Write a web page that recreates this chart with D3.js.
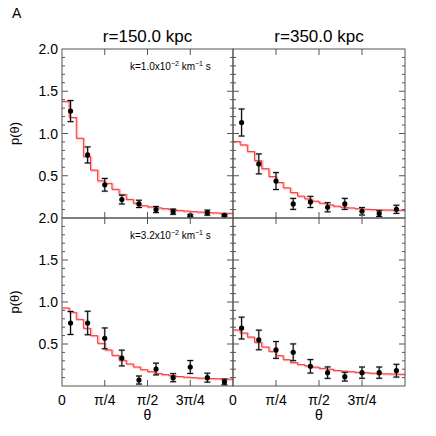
<!DOCTYPE html>
<html>
<head>
<meta charset="utf-8">
<script src="https://cdn.jsdelivr.net/npm/d3@7"></script>
<style>
  body { margin: 0; background: #fff; }
  svg { font-family: "Liberation Sans", Arial, sans-serif; }
</style>
</head>
<body>
<div id="chart"></div>
<script>
const PI = Math.PI;
const radiusTitles = ["r=150.0 kpc", "r=350.0 kpc"];
const kValues = ["1.0", "3.2"];
const xTicks = [0, PI / 4, PI / 2, 3 * PI / 4];
const xTickLabels = ["0", "\u03c0/4", "\u03c0/2", "3\u03c0/4"];
const yTicks = [0.5, 1.0, 1.5, 2.0];

// observed p(theta), 10 bins over [0, pi]
const obsR150K1 = [1.265, 0.746, 0.393, 0.218, 0.167, 0.10, 0.075, 0.028, 0.063, 0.032];
const errR150K1 = [0.125, 0.095, 0.075, 0.052, 0.043, 0.036, 0.031, 0.012, 0.03, 0.012];
const obsR350K1 = [1.13, 0.64, 0.437, 0.167, 0.19, 0.127, 0.167, 0.079, 0.052, 0.103];
const errR350K1 = [0.16, 0.118, 0.1, 0.065, 0.066, 0.054, 0.065, 0.044, 0.034, 0.048];
const obsR150K3 = [0.75, 0.75, 0.567, 0.333, 0.071, 0.202, 0.099, 0.226, 0.099, 0.048];
const errR150K3 = [0.137, 0.14, 0.124, 0.094, 0.048, 0.07, 0.048, 0.077, 0.053, 0.034];
const obsR350K3 = [0.69, 0.548, 0.429, 0.401, 0.234, 0.159, 0.111, 0.159, 0.159, 0.182];
const errR350K3 = [0.13, 0.117, 0.1, 0.1, 0.08, 0.068, 0.052, 0.067, 0.067, 0.076];

// model histograms, 24 bins over [0, pi]
const modR150K1 = [1.38, 1.19, 0.944, 0.726, 0.567, 0.44, 0.41, 0.34, 0.28, 0.22, 0.175, 0.145,
  0.13, 0.12, 0.11, 0.10, 0.09, 0.082, 0.075, 0.07, 0.065, 0.06, 0.058, 0.056];
const modR350K1 = [0.905, 0.865, 0.786, 0.679, 0.583, 0.49, 0.42, 0.357, 0.30, 0.258, 0.226, 0.199,
  0.175, 0.155, 0.139, 0.127, 0.119, 0.11, 0.104, 0.10, 0.097, 0.095, 0.093, 0.092];
const modR150K3 = [0.929, 0.877, 0.794, 0.687, 0.599, 0.508, 0.429, 0.365, 0.306, 0.262, 0.226, 0.194,
  0.17, 0.15, 0.135, 0.123, 0.113, 0.105, 0.099, 0.094, 0.09, 0.087, 0.085, 0.083];
const modR350K3 = [0.667, 0.631, 0.583, 0.52, 0.464, 0.413, 0.361, 0.313, 0.278, 0.255, 0.24, 0.225,
  0.21, 0.20, 0.185, 0.178, 0.17, 0.163, 0.158, 0.152, 0.148, 0.145, 0.142, 0.14];

const panels = [
  { col: 0, row: 0, obs: obsR150K1, err: errR150K1, model: modR150K1 },
  { col: 1, row: 0, obs: obsR350K1, err: errR350K1, model: modR350K1 },
  { col: 0, row: 1, obs: obsR150K3, err: errR150K3, model: modR150K3 },
  { col: 1, row: 1, obs: obsR350K3, err: errR350K3, model: modR350K3 }
];

const W = 436, H = 436;
const colX = [[62, 233], [233, 405]];
const rowY = [[218, 49], [386, 218]];
const axisColor = "#555";

const svg = d3.select("#chart").append("svg")
  .attr("width", W).attr("height", H);

svg.append("text").attr("x", 12).attr("y", 18)
  .attr("font-size", 14).text("A");

const clip = svg.append("defs");

panels.forEach((p, i) => {
  const x = d3.scaleLinear().domain([0, PI]).range(colX[p.col]);
  const y = d3.scaleLinear().domain([0, 2]).range(rowY[p.row]);
  const g = svg.append("g");

  clip.append("clipPath").attr("id", "clip" + i)
    .append("rect")
    .attr("x", x(0)).attr("y", y(2))
    .attr("width", x(PI) - x(0) + 1).attr("height", y(0) - y(2));

  // model step line
  const nb = p.model.length;
  const steps = p.model.map((v, j) => ({ t: j * PI / nb, v }));
  steps.push({ t: PI, v: p.model[nb - 1] });
  const line = d3.line().curve(d3.curveStepAfter)
    .x(d => x(d.t)).y(d => y(d.v));

  const plot = g.append("g").attr("clip-path", `url(#clip${i})`);
  plot.append("path").datum(steps)
    .attr("fill", "none").attr("stroke", "#fbbcbc")
    .attr("stroke-width", 2).attr("transform", "translate(1,0.6)")
    .attr("d", line);
  plot.append("path").datum(steps)
    .attr("fill", "none").attr("stroke", "#ff3333")
    .attr("stroke-width", 1).attr("d", line);

  // observed points with error bars
  const pts = p.obs.map((v, j) => ({ t: (j + 0.5) * PI / p.obs.length, v, e: p.err[j] }));
  const eb = g.append("g");
  [["#999", 2.2, 0.6], ["#000", 1, 1]].forEach(([c, w, o]) => {
    const s = eb.append("g").attr("stroke", c).attr("stroke-width", w).attr("opacity", o);
    pts.forEach(d => {
      const cx = x(d.t);
      s.append("line").attr("x1", cx).attr("x2", cx)
        .attr("y1", y(d.v - d.e)).attr("y2", y(d.v + d.e));
      [d.v - d.e, d.v + d.e].forEach(e => {
        s.append("line").attr("x1", cx - 3).attr("x2", cx + 3)
          .attr("y1", y(e)).attr("y2", y(e));
      });
    });
  });
  g.selectAll("circle.pt").data(pts).enter().append("circle")
    .attr("cx", d => x(d.t)).attr("cy", d => y(d.v))
    .attr("r", 2.6).attr("fill", "#000");

  // frame
  g.append("rect")
    .attr("x", x(0)).attr("y", y(2))
    .attr("width", x(PI) - x(0)).attr("height", y(0) - y(2))
    .attr("fill", "none").attr("stroke", axisColor).attr("stroke-width", 1);

  // y ticks (both sides, inward)
  const minor = d3.range(1, 20).map(k => k / 10);
  const ty = g.append("g").attr("stroke", axisColor).attr("stroke-width", 1);
  minor.forEach(v => {
    const len = Math.abs(v * 2 - Math.round(v * 2)) < 1e-6 ? 6 : 3;
    ty.append("line").attr("x1", x(0)).attr("x2", x(0) + len).attr("y1", y(v)).attr("y2", y(v));
    ty.append("line").attr("x1", x(PI)).attr("x2", x(PI) - len).attr("y1", y(v)).attr("y2", y(v));
  });
  // x ticks (top and bottom, inward)
  xTicks.slice(1).forEach(t => {
    ty.append("line").attr("x1", x(t)).attr("x2", x(t)).attr("y1", y(0)).attr("y2", y(0) - 6);
    ty.append("line").attr("x1", x(t)).attr("x2", x(t)).attr("y1", y(2)).attr("y2", y(2) + 6);
  });

  if (p.col === 0) {
    yTicks.forEach(v => {
      g.append("text").attr("x", x(0) - 4).attr("y", y(v) + 5)
        .attr("text-anchor", "end").attr("font-size", 14)
        .text(d3.format(".1f")(v));
    });
    g.append("text")
      .attr("transform", `translate(19,${(y(0) + y(2)) / 2}) rotate(-90)`)
      .attr("text-anchor", "middle").attr("font-size", 13)
      .text("p(\u03b8)");
    const k = g.append("text").attr("x", 130).attr("y", y(2) + 21)
      .attr("font-size", 10);
    k.append("tspan").text(`k=${kValues[p.row]}x10`);
    k.append("tspan").attr("dy", -4).attr("font-size", 7).text("\u22122");
    k.append("tspan").attr("dy", 4).text(" km");
    k.append("tspan").attr("dy", -4).attr("font-size", 7).text("\u22121");
    k.append("tspan").attr("dy", 4).text(" s");
  }

  if (p.row === 0) {
    g.append("text").attr("x", (x(0) + x(PI)) / 2).attr("y", 42)
      .attr("text-anchor", "middle").attr("font-size", 17)
      .text(radiusTitles[p.col]);
  } else {
    xTicks.forEach((t, j) => {
      g.append("text").attr("x", x(t)).attr("y", 405)
        .attr("text-anchor", "middle").attr("font-size", 14)
        .text(xTickLabels[j]);
    });
    g.append("text").attr("x", x(PI / 2)).attr("y", 420)
      .attr("text-anchor", "middle").attr("font-size", 14)
      .text("\u03b8");
  }
});
</script>
</body>
</html>
